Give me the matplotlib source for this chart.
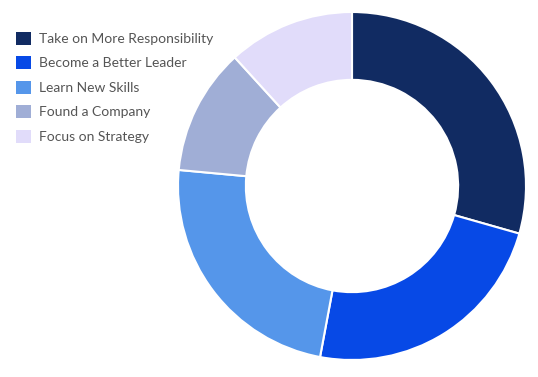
import matplotlib.pyplot as plt
from matplotlib.patches import Patch

labels = ["Take on More Responsibility", "Become a Better Leader",
          "Learn New Skills", "Found a Company", "Focus on Strategy"]
values = [5, 4, 4, 2, 2]
colors = ["#112b62", "#0749e6", "#5596ea", "#a0aed6", "#e1dcfa"]

W, H = 538, 377
fig = plt.figure(figsize=(W / 100, H / 100), dpi=100)

cx, cy, r = 352, 186, 174
ax = fig.add_axes([(cx - r) / W, (H - cy - r) / H, 2 * r / W, 2 * r / H])
ax.pie(values, colors=colors, startangle=90, counterclock=False,
       wedgeprops=dict(width=0.39, edgecolor="white", linewidth=1.5))
ax.set_xlim(-1, 1)
ax.set_ylim(-1, 1)
ax.set_aspect("equal")
ax.axis("off")

handles = [Patch(facecolor=c, edgecolor="none") for c in colors]
fig.legend(handles, labels, loc="upper left", bbox_to_anchor=(10 / W, 1 - 26 / H),
           frameon=False, prop={"family": "Lato", "size": 10},
           labelcolor="#555555", handlelength=1.1, handleheight=1.1,
           handletextpad=0.6, labelspacing=0.8, borderaxespad=0)

fig.savefig("out.png", dpi=100)
